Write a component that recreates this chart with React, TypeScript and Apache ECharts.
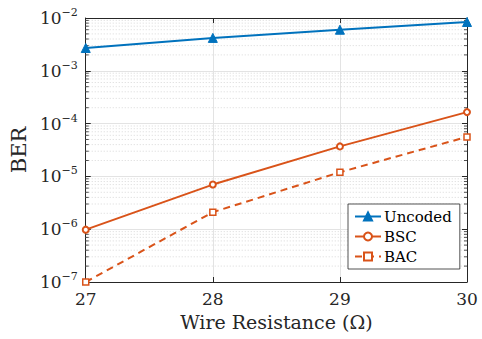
import React, { useEffect, useRef } from "react";
import * as echarts from "echarts";

const resistance = [27, 28, 29, 30];
const uncoded = [2.7e-3, 4.2e-3, 6.0e-3, 8.4e-3];
const bsc = [9.8e-7, 7.0e-6, 3.7e-5, 1.65e-4];
const bac = [1.0e-7, 2.1e-6, 1.2e-5, 5.6e-5];
const seriesNames = ["Uncoded", "BSC", "BAC"];
const xTicks = [27, 28, 29, 30];

const minorValues: number[] = [];
for (let k = -7; k <= -3; k++) {
  for (let m = 2; m <= 9; m++) minorValues.push(m * Math.pow(10, k));
}

const FONT = "DejaVu Serif";
const AX = "#262626";

export default function App() {
  const ref = useRef<HTMLDivElement>(null);
  useEffect(() => {
    if (!ref.current) return;
    const chart = echarts.init(ref.current, undefined, { renderer: "svg" });
    const pair = (ys: number[]) => resistance.map((x, i) => [x, ys[i]]);
    const yLabel = (v: number) => {
      const e = Math.round(Math.log10(v));
      return "{b|10}{s|" + (e < 0 ? "\u2212" + -e : String(e)) + "}";
    };
    const rich = {
      b: { fontFamily: FONT, fontSize: 17, color: AX },
      s: { fontFamily: FONT, fontSize: 11, color: AX, padding: [0, 0, 11, 0] },
    };
    const baseY = {
      type: "log",
      logBase: 10,
      min: 1e-7,
      max: 1e-2,
      axisLine: { show: true, lineStyle: { color: AX, width: 1 } },
      axisTick: { show: true, inside: true, length: 5, lineStyle: { color: AX } },
      minorTick: { show: false },
    };
    chart.setOption({
      animation: false,
      backgroundColor: "#fff",
      textStyle: { fontFamily: FONT },
      grid: { left: 84, right: 15, top: 18, bottom: 57, show: false },
      legend: {
        data: seriesNames,
        orient: "vertical",
        left: 348,
        top: 204,
        padding: [5, 8, 5, 6],
        itemGap: 5,
        itemWidth: 26,
        itemHeight: 10,
        borderColor: AX,
        borderWidth: 0.8,
        borderRadius: 0,
        backgroundColor: "#fff",
        textStyle: { fontFamily: FONT, fontSize: 15, color: "#000", padding: [0, 0, 0, -2] },
      },
      xAxis: [
        {
          type: "value",
          min: 27,
          max: 30,
          interval: 1,
          name: "Wire Resistance (\u03A9)",
          nameLocation: "middle",
          nameGap: 30,
          nameTextStyle: { fontFamily: FONT, fontSize: 19, color: AX },
          axisLine: { show: true, lineStyle: { color: AX } },
          axisTick: { show: true, inside: true, length: 5, lineStyle: { color: AX } },
          axisLabel: {
            fontFamily: FONT,
            fontSize: 17,
            color: AX,
            margin: 8,
            customValues: xTicks,
          },
          splitLine: { show: true, lineStyle: { color: "#e3e3e3", width: 1 } },
        },
        {
          type: "value",
          position: "top",
          min: 27,
          max: 30,
          interval: 1,
          axisLine: { show: true, lineStyle: { color: AX } },
          axisTick: { show: true, inside: true, length: 5, lineStyle: { color: AX } },
          axisLabel: { show: false },
          splitLine: { show: false },
        },
      ],
      yAxis: [
        {
          ...baseY,
          name: "BER",
          nameLocation: "middle",
          nameGap: 51,
          nameTextStyle: { fontFamily: FONT, fontSize: 21, color: AX },
          axisLabel: {
            formatter: yLabel,
            rich,
            margin: 8,
            showMinLabel: true,
            showMaxLabel: true,
          },
          splitLine: { show: true, lineStyle: { color: "#e3e3e3", width: 1 } },
        },
        {
          ...baseY,
          position: "right",
          axisLabel: { show: false },
          splitLine: { show: false },
        },
      ],
      series: [
        {
          name: "_minor",
          type: "custom",
          silent: true,
          z: 1,
          data: minorValues.map((v) => [27, v]),
          renderItem: (params: any, api: any) => {
            const v = api.value(1);
            const p = api.coord([27, v]);
            const q = api.coord([30, v]);
            const st = { stroke: AX, lineWidth: 0.8 };
            return {
              type: "group",
              children: [
                { type: "line", shape: { x1: p[0], y1: p[1], x2: q[0], y2: q[1] }, style: { stroke: "#cfcfcf", lineWidth: 0.8, lineDash: [1, 2] } },
                { type: "line", shape: { x1: p[0], y1: p[1], x2: p[0] + 3, y2: p[1] }, style: st },
                { type: "line", shape: { x1: q[0] - 3, y1: q[1], x2: q[0], y2: q[1] }, style: st },
              ],
            };
          },
        },
        {
          name: "Uncoded",
          type: "line",
          data: pair(uncoded),
          color: "#0072BD",
          symbol: "triangle",
          symbolSize: 9,
          clip: false,
          z: 5,
          lineStyle: { width: 2, color: "#0072BD" },
          itemStyle: { color: "#0072BD", borderColor: "#0072BD", borderWidth: 1 },
        },
        {
          name: "BSC",
          type: "line",
          data: pair(bsc),
          color: "#D95319",
          symbol: "circle",
          symbolSize: 6,
          clip: false,
          z: 5,
          lineStyle: { width: 2, color: "#D95319" },
          itemStyle: { color: "#fff", borderColor: "#D95319", borderWidth: 2 },
        },
        {
          name: "BAC",
          type: "line",
          data: pair(bac),
          color: "#D95319",
          symbol: "rect",
          symbolSize: 6,
          clip: false,
          z: 5,
          lineStyle: { width: 2, color: "#D95319", type: [7, 5] },
          itemStyle: { color: "#fff", borderColor: "#D95319", borderWidth: 1.5 },
        },
      ],
    });
    return () => chart.dispose();
  }, []);
  return <div ref={ref} style={{ width: 482, height: 339, position: "absolute", left: 0, top: 0 }} />;
}
